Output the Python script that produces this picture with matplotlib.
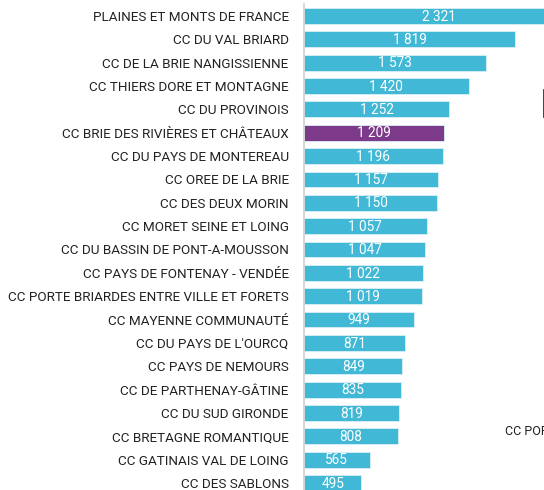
import matplotlib
matplotlib.use("Agg")
import matplotlib.pyplot as plt
from matplotlib.lines import Line2D

# Data
names = [
    "PLAINES ET MONTS DE FRANCE",
    "CC DU VAL BRIARD",
    "CC DE LA BRIE NANGISSIENNE",
    "CC THIERS DORE ET MONTAGNE",
    "CC DU PROVINOIS",
    "CC BRIE DES RIVIÈRES ET CHÂTEAUX",
    "CC DU PAYS DE MONTEREAU",
    "CC OREE DE LA BRIE",
    "CC DES DEUX MORIN",
    "CC MORET SEINE ET LOING",
    "CC DU BASSIN DE PONT-A-MOUSSON",
    "CC PAYS DE FONTENAY - VENDÉE",
    "CC PORTE BRIARDES ENTRE VILLE ET FORETS",
    "CC MAYENNE COMMUNAUTÉ",
    "CC DU PAYS DE L'OURCQ",
    "CC PAYS DE NEMOURS",
    "CC DE PARTHENAY-GÂTINE",
    "CC DU SUD GIRONDE",
    "CC BRETAGNE ROMANTIQUE",
    "CC GATINAIS VAL DE LOING",
    "CC DES SABLONS",
]
values = [2321, 1819, 1573, 1420, 1252, 1209, 1196, 1157, 1150, 1057, 1047,
          1022, 1019, 949, 871, 849, 835, 819, 808, 565, 495]
highlight = "CC BRIE DES RIVIÈRES ET CHÂTEAUX"

blue = "#41b8d5"
purple = "#7e3a8a"

plt.rcParams["font.family"] = ["Roboto", "DejaVu Sans"]

W, H = 544, 490
fig = plt.figure(figsize=(W / 100, H / 100), dpi=100)

# axes runs off the right and bottom edges, like the cropped original
ax_left, ax_right = 304, 544
ax_top, ax_bottom = 4.3, 494.7
ax = fig.add_axes([ax_left / W, 1 - ax_bottom / H,
                   (ax_right - ax_left) / W, (ax_bottom - ax_top) / H])

ypos = list(range(len(names)))
colors = [purple if n == highlight else blue for n in names]
bars = ax.barh(ypos, values, height=0.68, color=colors,
               edgecolor="#d9f0f6", linewidth=0.6, clip_on=True)

px_per_unit = (515 - 304) / 1819
ax.set_xlim(0, (ax_right - ax_left) / px_per_unit)
ax.set_ylim(len(names) - 0.5, -0.5)

for y, v in zip(ypos, values):
    label = f"{v:,}".replace(",", " ")
    ax.text(v / 2, y + 0.03, label, ha="center", va="center", color="white",
            fontsize=9.8, clip_on=False)

ax.set_yticks(ypos)
ax.set_yticklabels(names, fontsize=9.7, color="#222222")
ax.tick_params(axis="y", length=0, pad=11)
ax.set_xticks([])
for side in ["top", "right", "bottom"]:
    ax.spines[side].set_visible(False)
ax.spines["left"].set_color("#d0d0d0")
ax.spines["left"].set_linewidth(1.2)

# bits of the neighbouring chart that show at the right edge
fig.text(505 / W, 1 - 431 / H, "CC PORTE", fontsize=9, color="#222222",
         va="center", ha="left")
fig.add_artist(Line2D([543.5 / W, 543.5 / W], [1 - 90 / H, 1 - 117 / H],
                      color="#2a1a30", linewidth=1.2))

fig.savefig("out.png", dpi=100)
